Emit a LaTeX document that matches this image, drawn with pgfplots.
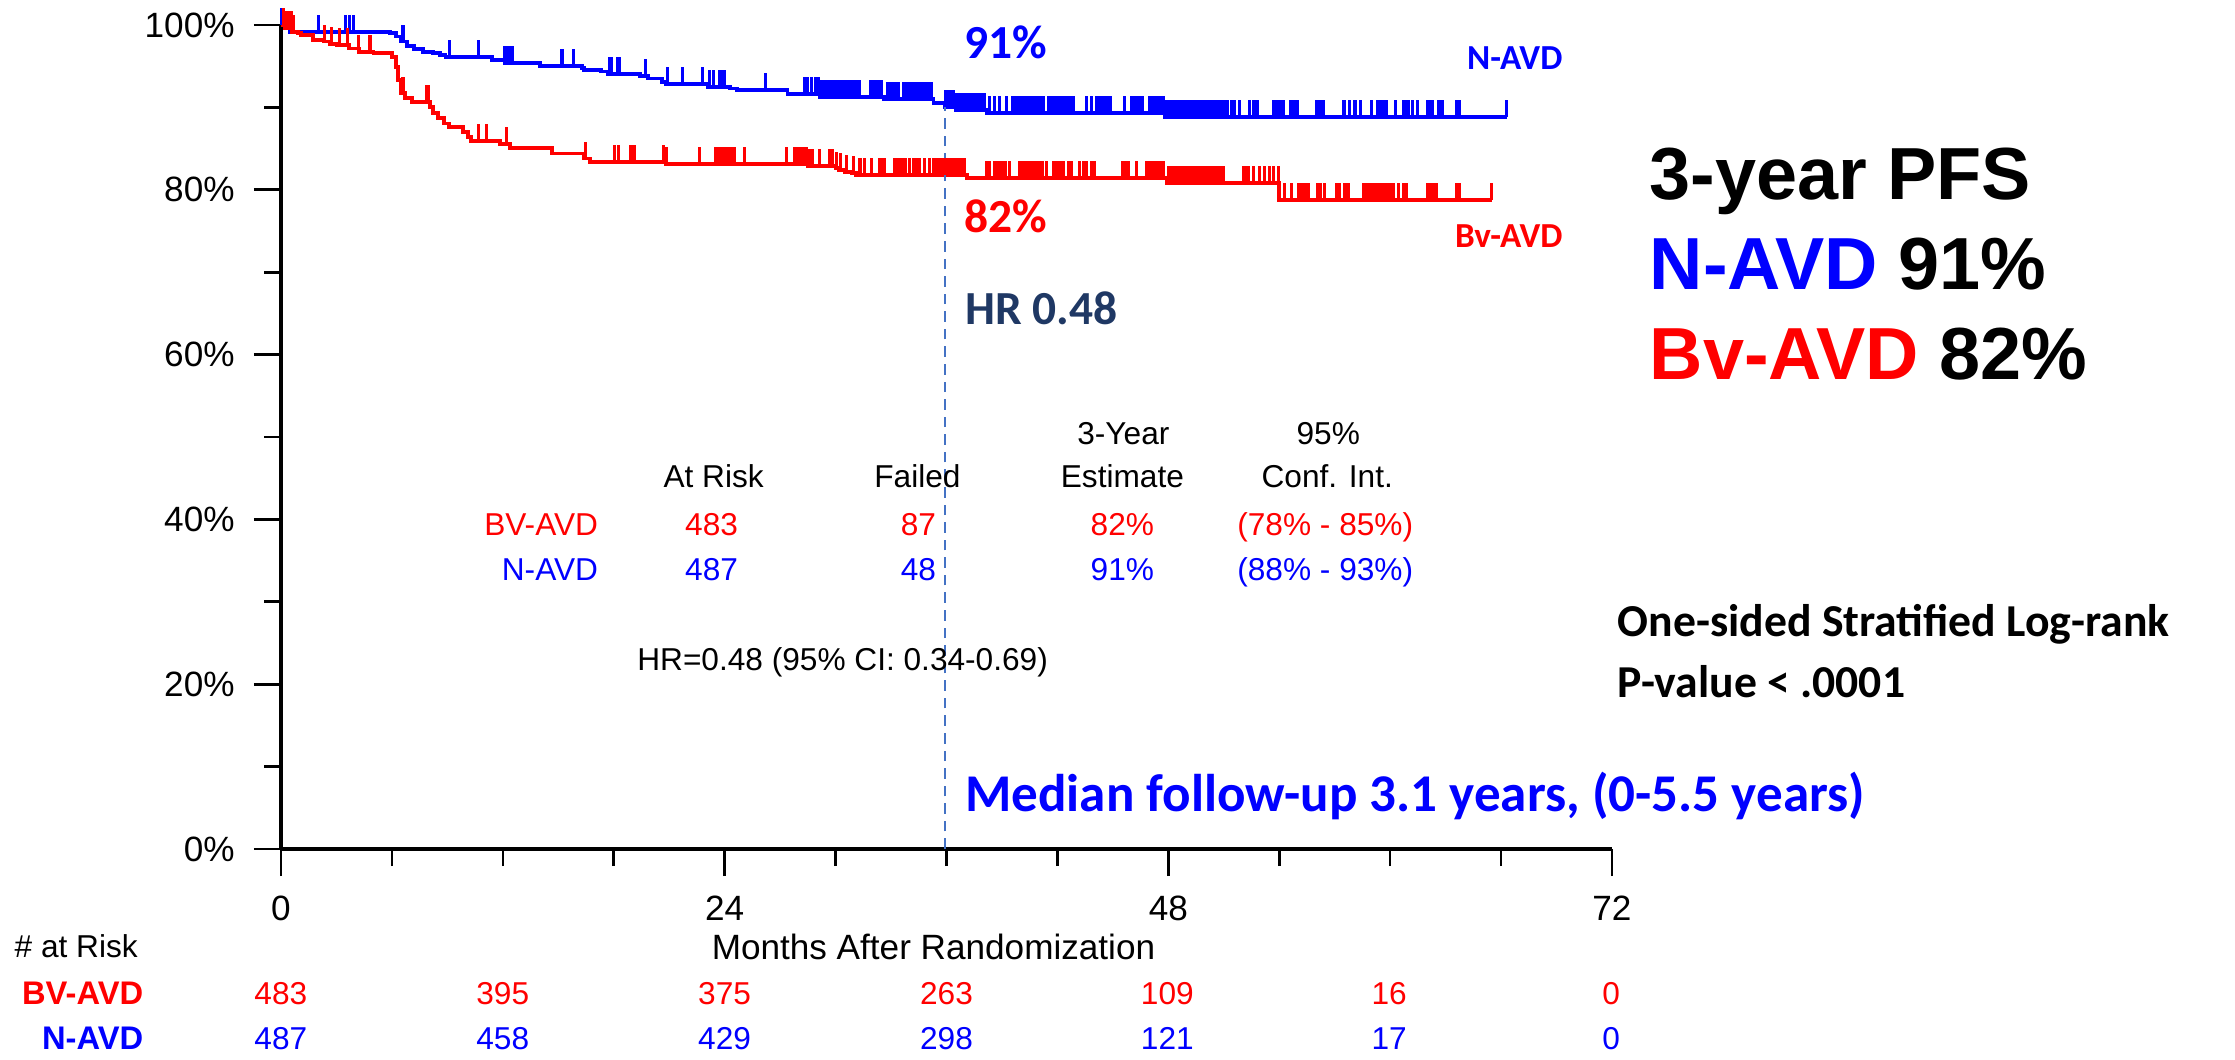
\documentclass[border=0pt]{standalone}
\usepackage{fontspec}
\setmainfont{Liberation Sans}
\newfontfamily\calibri{Carlito}
\usepackage{pgfplots}
\pgfplotsset{compat=1.18}

\definecolor{kmred}{RGB}{255,0,0}
\definecolor{kmblue}{RGB}{0,0,255}
\definecolor{hrnavy}{RGB}{31,56,100}
\definecolor{dashblue}{RGB}{68,114,196}

% censoring tick: a short stroke going up from the curve
\pgfdeclareplotmark{cens}{%
  \pgfpathmoveto{\pgfqpoint{0pt}{0pt}}%
  \pgfpathlineto{\pgfqpoint{0pt}{\pgfplotmarksize}}%
  \pgfusepathqstroke}

\newcommand\tabfont{\fontsize{9}{11}\selectfont}
\newcommand\annfont[1]{\calibri\bfseries\fontsize{#1}{#1}\selectfont}

\begin{document}
\begin{tikzpicture}
\useasboundingbox (0,0) rectangle (22.35cm,10.59cm);
\begin{axis}[
  at={(2.81cm,2.10cm)}, anchor=south west,
  scale only axis, width=13.31cm, height=8.24cm,
  xmin=0, xmax=72, ymin=0, ymax=100,
  axis x line*=bottom, axis y line*=left,
  axis line style={line width=1pt},
  clip=false,
  xtick={0,24,48,72}, minor xtick={6,12,18,30,36,42,54,60,66},
  ytick={0,20,40,60,80,100}, minor ytick={10,30,50,70,90},
  yticklabels={0\%,20\%,40\%,60\%,80\%,100\%},
  xticklabels={0,24,48,72},
  tick align=outside,
  major tick length=0.27cm, minor tick length=0.17cm,
  every tick/.style={black, line width=0.75pt},
  ticklabel style={font=\fontsize{10}{12}\selectfont},
  yticklabel style={xshift=-0.07cm},
  xticklabel style={yshift=-0.08cm},
]

% N-AVD
\addplot[const plot, kmblue, line width=1.1pt] coordinates {
  (0,100)(0.2,99.6)(0.5,99.2)(5.9,99.0)(6.2,98.6)(6.5,98.0)(6.8,97.4)
  (7.2,97.05)(7.7,96.75)(8.2,96.55)(8.6,96.35)(8.9,96.1)(11.4,95.75)
  (12.1,95.35)(14.0,95.05)(16.3,94.75)(16.4,94.55)(17.3,94.35)(17.7,94.05)
  (19.4,93.8)(19.85,93.5)(20.6,93.1)(20.8,92.8)(23.1,92.5)(24.3,92.3)
  (24.65,92.1)(27.4,91.6)(29.15,91.3)(32.6,91.0)(35.3,90.5)(35.9,90.1)
  (36.5,89.7)(38.2,89.35)(47.8,88.8)(66.3,88.8)
};
\addplot[only marks, mark=cens, mark size=4.8pt, mark options={kmblue, line width=0.9pt}] coordinates {
  (0.03,100)(0.08,100)(0.13,100)
  (2.05,99.2)(3.5,99.2)(3.7,99.2)(3.9,99.2)
  (6.6,98.0)(9.1,96.1)(10.7,96.1)
  (12.1,95.35)(12.2,95.35)(12.3,95.35)(12.4,95.35)(12.5,95.35)
  (15.2,95.05)(15.8,95.05)
  (17.75,94.05)(17.9,94.05)(18.2,94.05)(18.3,94.05)(19.7,93.8)
  (20.9,92.8)(21.7,92.8)(22.8,92.8)
  (23.2,92.5)(23.4,92.5)(23.7,92.5)(23.85,92.5)(24.0,92.5)
  (26.2,92.1)
  (28.3,91.6)(28.5,91.6)(28.7,91.6)(28.9,91.6)(29.05,91.6)
  (29.2,91.3)(29.35,91.3)(29.5,91.3)(29.65,91.3)(29.8,91.3)(29.95,91.3)
  (30.1,91.3)(30.25,91.3)(30.4,91.3)(30.55,91.3)(30.7,91.3)(30.85,91.3)
  (31.0,91.3)(31.15,91.3)(31.3,91.3)
  (31.9,91.3)(32.05,91.3)(32.2,91.3)(32.35,91.3)(32.5,91.3)
  (32.8,91.0)(32.95,91.0)(33.1,91.0)(33.25,91.0)(33.4,91.0)
  (33.7,91.0)(33.85,91.0)(34.0,91.0)(34.15,91.0)(34.3,91.0)(34.45,91.0)
  (34.6,91.0)(34.75,91.0)(34.9,91.0)(35.05,91.0)(35.2,91.0)
  (35.95,90.1)(36.1,90.1)(36.25,90.1)(36.4,90.1)
  (36.55,89.7)(36.7,89.7)(36.85,89.7)(37.0,89.7)(37.15,89.7)(37.3,89.7)
  (37.45,89.7)(37.6,89.7)(37.75,89.7)(37.9,89.7)(38.05,89.7)
  (38.34,89.35)(38.61,89.35)(38.88,89.35)(39.24,89.35)
  (39.6,89.35)(39.75,89.35)(39.9,89.35)(40.05,89.35)(40.2,89.35)(40.35,89.35)
  (40.5,89.35)(40.65,89.35)(40.8,89.35)(40.95,89.35)(41.1,89.35)(41.23,89.35)
  (41.5,89.35)(41.65,89.35)(41.8,89.35)(41.95,89.35)(42.1,89.35)(42.25,89.35)
  (42.4,89.35)(42.55,89.35)(42.7,89.35)(42.85,89.35)
  (43.57,89.35)(43.84,89.35)
  (44.1,89.35)(44.25,89.35)(44.4,89.35)(44.55,89.35)(44.7,89.35)(44.85,89.35)
  (45.65,89.35)
  (46.0,89.35)(46.15,89.35)(46.3,89.35)(46.45,89.35)(46.6,89.35)
  (47.0,89.35)(47.15,89.35)(47.3,89.35)(47.45,89.35)(47.6,89.35)(47.75,89.35)
  (47.9,88.8)(48.05,88.8)(48.2,88.8)(48.35,88.8)(48.5,88.8)(48.65,88.8)
  (48.8,88.8)(48.95,88.8)(49.1,88.8)(49.25,88.8)(49.4,88.8)(49.55,88.8)
  (49.7,88.8)(49.85,88.8)(50.0,88.8)(50.15,88.8)(50.3,88.8)(50.45,88.8)
  (50.6,88.8)(50.75,88.8)(50.9,88.8)(51.05,88.8)(51.2,88.8)
  (51.41,88.8)(51.6,88.8)(51.86,88.8)
  (52.4,88.8)(52.6,88.8)(52.8,88.8)(53.7,88.8)(53.85,88.8)(54.0,88.8)
  (54.2,88.8)(54.6,88.8)(54.8,88.8)(55.0,88.8)(56.0,88.8)(56.2,88.8)
  (56.4,88.8)(57.5,88.8)(57.8,88.8)(58.1,88.8)(58.4,88.8)(59.0,88.8)
  (59.3,88.8)(59.5,88.8)(59.65,88.8)(59.8,88.8)(60.3,88.8)(60.7,88.8)
  (60.85,88.8)(61.0,88.8)(61.2,88.8)(61.5,88.8)(62.0,88.8)(62.15,88.8)
  (62.3,88.8)(62.6,88.8)(62.8,88.8)(63.6,88.8)(63.75,88.8)(66.3,88.8)
};

% Bv-AVD
\addplot[const plot, kmred, line width=1.1pt] coordinates {
  (0,100)(0.2,99.6)(0.58,99.2)(0.93,99.0)(1.1,98.8)(1.75,98.2)(2.3,98.0)
  (2.65,97.65)(3.0,97.55)(3.7,97.15)(4.2,96.75)(5.0,96.55)(6.0,96.15)
  (6.2,94.95)(6.35,93.35)(6.5,91.7)(6.7,91.1)(7.1,90.7)(8.06,90.1)
  (8.2,89.3)(8.5,88.7)(8.8,88.05)(9.1,87.65)(9.85,87.05)(10.1,86.45)
  (10.3,85.95)(11.85,85.55)(12.4,85.05)(14.65,84.4)(16.4,83.8)(16.7,83.4)
  (20.8,83.1)(28.5,82.9)(30.0,82.6)(30.2,82.4)(30.5,82.2)(30.9,82.0)
  (31.1,81.8)(37.1,81.4)(47.9,80.8)(54.0,78.75)(65.5,78.75)
};
\addplot[only marks, mark=cens, mark size=4.8pt, mark options={kmred, line width=0.9pt}] coordinates {
  (0.15,100)(0.25,99.6)(0.35,99.6)(0.45,99.6)(0.55,99.6)(0.65,99.2)
  (2.35,98.0)(2.74,97.65)(3.15,97.55)(3.6,97.55)(4.2,96.75)(4.81,96.75)
  (6.6,91.7)(7.9,90.7)(8.0,90.7)
  (10.67,85.95)(11.1,85.95)(12.2,85.55)(16.45,83.8)
  (18.06,83.4)(18.25,83.4)(18.9,83.4)(19.0,83.4)(19.14,83.4)(20.68,83.4)
  (20.86,83.1)(22.66,83.1)(23.52,83.1)(23.65,83.1)(23.8,83.1)(23.95,83.1)
  (24.1,83.1)(24.25,83.1)(24.4,83.1)(24.55,83.1)(25.09,83.1)(27.35,83.1)
  (27.8,83.1)(27.95,83.1)(28.1,83.1)(28.25,83.1)(28.4,83.1)
  (28.6,82.9)(28.75,82.9)(29.15,82.9)(29.69,82.9)(29.85,82.9)
  (30.05,82.6)(30.25,82.4)(30.59,82.2)(30.96,82.0)
  (31.32,81.8)(31.58,81.8)(31.95,81.8)(32.4,81.8)(32.53,81.8)(32.66,81.8)
  (33.21,81.8)(33.35,81.8)(33.5,81.8)(33.65,81.8)(33.8,81.8)(34.02,81.8)
  (34.2,81.8)(34.35,81.8)(34.56,81.8)(34.83,81.8)(35.1,81.8)
  (35.3,81.8)(35.45,81.8)(35.6,81.8)(35.75,81.8)(35.9,81.8)(36.05,81.8)
  (36.2,81.8)(36.35,81.8)(36.5,81.8)(36.65,81.8)(36.8,81.8)(36.95,81.8)
  (38.16,81.4)(38.34,81.4)(38.6,81.4)(38.75,81.4)(38.9,81.4)(39.05,81.4)
  (39.2,81.4)(39.4,81.4)(39.97,81.4)(40.1,81.4)(40.25,81.4)(40.4,81.4)
  (40.55,81.4)(40.7,81.4)(40.85,81.4)(41.0,81.4)(41.2,81.4)(41.41,81.4)
  (41.77,81.4)(41.9,81.4)(42.05,81.4)(42.2,81.4)(42.31,81.4)(42.58,81.4)
  (42.76,81.4)(43.21,81.4)(43.4,81.4)(43.57,81.4)(43.84,81.4)(44.02,81.4)
  (45.55,81.4)(45.73,81.4)(45.82,81.4)(46.27,81.4)(46.82,81.4)(47.0,81.4)
  (47.15,81.4)(47.3,81.4)(47.45,81.4)(47.6,81.4)(47.75,81.4)
  (48.0,80.8)(48.15,80.8)(48.3,80.8)(48.45,80.8)(48.6,80.8)(48.75,80.8)
  (48.9,80.8)(49.05,80.8)(49.2,80.8)(49.35,80.8)(49.5,80.8)(49.65,80.8)
  (49.8,80.8)(49.95,80.8)(50.1,80.8)(50.25,80.8)(50.4,80.8)(50.55,80.8)
  (50.7,80.8)(50.85,80.8)(51.0,80.8)(52.05,80.8)(52.2,80.8)(52.32,80.8)
  (52.6,80.8)(52.95,80.8)(53.22,80.8)(53.49,80.8)(53.67,80.8)(53.94,80.8)
  (54.3,78.75)(54.66,78.75)(55.02,78.75)(55.15,78.75)(55.3,78.75)(55.45,78.75)
  (55.56,78.75)(56.1,78.75)(56.25,78.75)(56.46,78.75)(57.09,78.75)(57.27,78.75)
  (57.54,78.75)(57.72,78.75)(58.55,78.75)(58.7,78.75)(58.85,78.75)(59.0,78.75)
  (59.15,78.75)(59.3,78.75)(59.45,78.75)(59.6,78.75)(59.75,78.75)(59.9,78.75)
  (60.05,78.75)(60.2,78.75)(60.43,78.75)(60.7,78.75)(60.88,78.75)(62.05,78.75)
  (62.2,78.75)(62.35,78.75)(62.5,78.75)(63.6,78.75)(63.75,78.75)(65.47,78.75)
};

% 3-year reference line
\addplot[dashblue, line width=0.6pt, dash pattern=on 3pt off 2pt] coordinates {(35.9,0)(35.9,90.3)};
\end{axis}

% text, placed in pixel units of the reference (origin top left)
\begin{scope}[shift={(0,10.59cm)}, x=0.01cm, y=-0.01cm, every node/.style={inner sep=0pt}]
  % curve annotations
  \node[anchor=base west, text=kmblue, font=\annfont{13.5}] at (964,59) {91\%};
  \node[anchor=base west, text=kmred, font=\annfont{13.5}] at (964,233) {82\%};
  \node[anchor=base west, text=hrnavy, font=\annfont{13.5}] at (965,325) {HR 0.48};
  \node[anchor=base east, text=kmblue, font=\annfont{10}] at (1564,70) {N-AVD};
  \node[anchor=base east, text=kmred, font=\annfont{10}] at (1564,248) {Bv-AVD};
  \node[anchor=base west, text=kmblue, font=\annfont{15.1}] at (965,812) {Median follow-up 3.1 years, (0-5.5 years)};
  \node[anchor=base west, font=\annfont{13}] at (1618,637) {One-sided Stratified Log-rank};
  \node[anchor=base west, font=\annfont{13}] at (1618,698) {P-value < .0001};

  % summary block
  \node[anchor=base west, font=\bfseries\fontsize{21}{25}\selectfont] at (1650,200) {3-year PFS};
  \node[anchor=base west, font=\bfseries\fontsize{21}{25}\selectfont] at (1650,290) {\textcolor{kmblue}{N-AVD} 91\%};
  \node[anchor=base west, font=\bfseries\fontsize{21}{25}\selectfont] at (1650,380) {\textcolor{kmred}{Bv-AVD} 82\%};

  % estimate table
  \begin{scope}[every node/.append style={font=\tabfont, anchor=base}]
    \node at (1124,445) {3-Year};
    \node at (1329,445) {95\%};
    \node at (714,488) {At Risk};
    \node at (918,488) {Failed};
    \node at (1123,488) {Estimate};
    \node at (1328,488) {Conf. Int.};
    \node[anchor=base east, text=kmred] at (599,536) {BV-AVD};
    \node[text=kmred] at (712,536) {483};
    \node[text=kmred] at (919,536) {87};
    \node[text=kmred] at (1123,536) {82\%};
    \node[text=kmred] at (1326,536) {(78\% - 85\%)};
    \node[anchor=base east, text=kmblue] at (599,581) {N-AVD};
    \node[text=kmblue] at (712,581) {487};
    \node[text=kmblue] at (919,581) {48};
    \node[text=kmblue] at (1123,581) {91\%};
    \node[text=kmblue] at (1326,581) {(88\% - 93\%)};
    \node[anchor=base west] at (637,671) {HR=0.48 (95\% CI: 0.34-0.69)};
  \end{scope}

  % axis title and numbers at risk
  \node[anchor=base, font=\fontsize{10}{12}\selectfont] at (934,960) {Months After Randomization};
  \node[anchor=base west, font=\tabfont] at (14,958) {\# at Risk};
  \node[anchor=base east, font=\bfseries\fontsize{9.3}{11}\selectfont, text=kmred] at (144,1005) {BV-AVD};
  \node[anchor=base east, font=\bfseries\fontsize{9.3}{11}\selectfont, text=kmblue] at (144,1050) {N-AVD};
  \begin{scope}[every node/.append style={font=\tabfont, anchor=base}]
    \node[text=kmred] at (281,1005) {483};
    \node[text=kmred] at (503,1005) {395};
    \node[text=kmred] at (725,1005) {375};
    \node[text=kmred] at (947,1005) {263};
    \node[text=kmred] at (1168,1005) {109};
    \node[text=kmred] at (1390,1005) {16};
    \node[text=kmred] at (1612,1005) {0};
    \node[text=kmblue] at (281,1050) {487};
    \node[text=kmblue] at (503,1050) {458};
    \node[text=kmblue] at (725,1050) {429};
    \node[text=kmblue] at (947,1050) {298};
    \node[text=kmblue] at (1168,1050) {121};
    \node[text=kmblue] at (1390,1050) {17};
    \node[text=kmblue] at (1612,1050) {0};
  \end{scope}
\end{scope}
\end{tikzpicture}
\end{document}
